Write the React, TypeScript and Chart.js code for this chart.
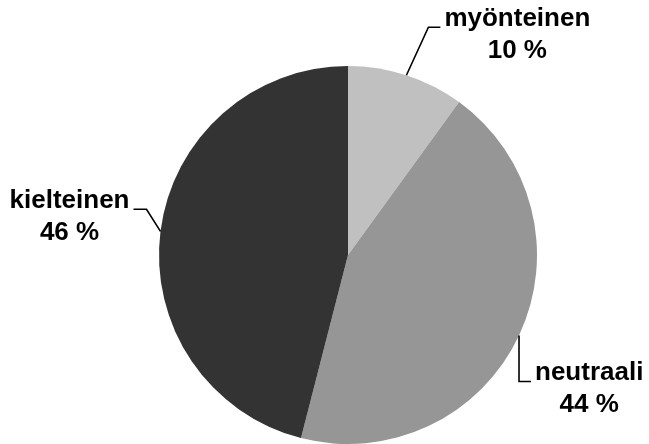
import React, { useEffect, useRef } from "react";
import { Chart, registerables } from "chart.js";

Chart.register(...registerables);

const categories = ["myönteinen", "neutraali", "kielteinen"];
const values = [10, 44, 46];
const percentLabels = ["10 %", "44 %", "46 %"];
const colors = ["#c0c0c0", "#969696", "#333333"];

// leader geometry relative to the slice's outer mid-point: [bendDx, bendDy, endDx, side]
const leaders: [number, number, number, number][] = [
  [22, -48, 12, 1],
  [0, 46, 12, 1],
  [-14, -22, -13, -1],
];

const labelPlugin = {
  id: "pieLabels",
  afterDraw(chart: any) {
    const ctx = chart.ctx;
    const meta = chart.getDatasetMeta(0);
    ctx.save();
    ctx.font = "bold 26px 'Liberation Sans', Arial, sans-serif";
    ctx.fillStyle = "#000";
    ctx.strokeStyle = "#000";
    ctx.lineWidth = 1.6;
    meta.data.forEach((arc: any, i: number) => {
      const mid = (arc.startAngle + arc.endAngle) / 2;
      const ax = arc.x + Math.cos(mid) * arc.outerRadius;
      const ay = arc.y + Math.sin(mid) * arc.outerRadius;
      const [bdx, bdy, edx, side] = leaders[i];
      const bx = ax + bdx;
      const by = ay + bdy;
      const ex = bx + edx;
      ctx.beginPath();
      ctx.moveTo(ax, ay);
      ctx.lineTo(bx, by);
      ctx.lineTo(ex, by);
      ctx.stroke();
      const lines = [categories[i], percentLabels[i]];
      const w = Math.max(...lines.map((l) => ctx.measureText(l).width));
      const cx = side > 0 ? ex + 4 + w / 2 : ex - 4 - w / 2;
      ctx.textAlign = "center";
      ctx.textBaseline = "alphabetic";
      lines.forEach((l, k) => ctx.fillText(l, cx, by - 1 + k * 32));
    });
    ctx.restore();
  },
};

export default function App() {
  const ref = useRef<HTMLCanvasElement>(null);
  useEffect(() => {
    document.body.style.margin = "0";
    const chart = new Chart(ref.current!, {
      type: "pie",
      data: {
        labels: categories,
        datasets: [
          {
            data: values,
            backgroundColor: colors,
            borderWidth: 0,
          },
        ],
      },
      options: {
        animation: false,
        responsive: false,
        layout: { padding: { left: 159, right: 112, top: 66, bottom: 0 } },
        plugins: { legend: { display: false }, tooltip: { enabled: false } },
      },
      plugins: [labelPlugin],
    });
    return () => chart.destroy();
  }, []);
  return (
    <div style={{ width: 649, height: 444, background: "#fff" }}>
      <canvas ref={ref} width={649} height={444} />
    </div>
  );
}
